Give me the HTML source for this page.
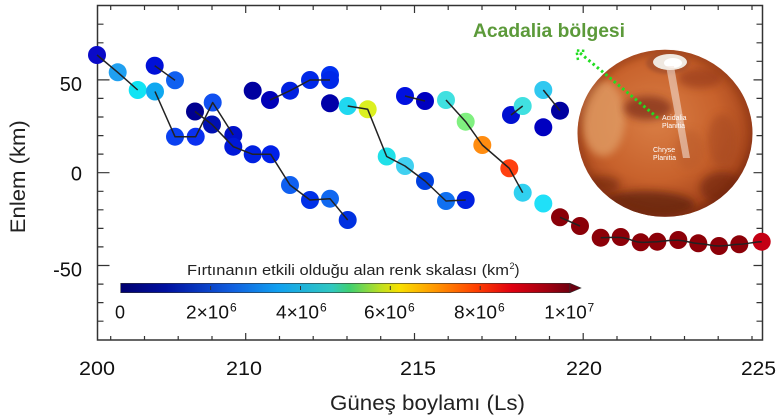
<!DOCTYPE html>
<html><head><meta charset="utf-8"><style>
html,body{margin:0;padding:0;background:#fff;}
svg{display:block;}
text{font-family:"Liberation Sans",sans-serif;}
</style></head><body>
<svg width="777" height="420" viewBox="0 0 777 420" xmlns="http://www.w3.org/2000/svg">
<defs>
<linearGradient id="jet" x1="0" y1="0" x2="1" y2="0">
<stop offset="0" stop-color="#000070"/>
<stop offset="0.1" stop-color="#0010a0"/>
<stop offset="0.25" stop-color="#1060e0"/>
<stop offset="0.35" stop-color="#10a0f0"/>
<stop offset="0.47" stop-color="#30c8c0"/>
<stop offset="0.51" stop-color="#40d070"/>
<stop offset="0.58" stop-color="#c0e020"/>
<stop offset="0.62" stop-color="#f8e000"/>
<stop offset="0.69" stop-color="#ffa000"/>
<stop offset="0.79" stop-color="#ff4000"/>
<stop offset="0.87" stop-color="#e00010"/>
<stop offset="0.95" stop-color="#a00010"/>
<stop offset="1" stop-color="#700010"/>
</linearGradient>
<radialGradient id="mars" cx="0.45" cy="0.42" r="0.6">
<stop offset="0" stop-color="#d97e45"/>
<stop offset="0.6" stop-color="#c8622c"/>
<stop offset="0.9" stop-color="#a9481e"/>
<stop offset="1" stop-color="#8a3414"/>
</radialGradient>
<filter id="bl" x="-50%" y="-50%" width="200%" height="200%"><feGaussianBlur stdDeviation="4"/></filter>
<filter id="bl2" x="-50%" y="-50%" width="200%" height="200%"><feGaussianBlur stdDeviation="1.5"/></filter>
<clipPath id="mc"><ellipse cx="665" cy="133.3" rx="87.5" ry="83.5"/></clipPath>
</defs>

<!-- frame -->
<rect x="97.5" y="5.5" width="665" height="334.5" fill="none" stroke="#333" stroke-width="1.5"/>
<path stroke="#333" stroke-width="1.2" fill="none" d="
M110.7 340V336 M144.5 340V336 M178.2 340V336 M212 340V336 M245.7 340V333 M279.5 340V336 M313.2 340V336 M347 340V336 M380.7 340V336 M414.5 340V333 M448.2 340V336 M482 340V336 M515.7 340V336 M549.5 340V336 M583.2 340V333 M617 340V336 M650.7 340V336 M684.5 340V336 M718.2 340V336 M752 340V336
M110.7 5.5V10 M144.5 5.5V10 M178.2 5.5V10 M212 5.5V10 M245.7 5.5V13 M279.5 5.5V10 M313.2 5.5V10 M347 5.5V10 M380.7 5.5V10 M414.5 5.5V13 M448.2 5.5V10 M482 5.5V10 M515.7 5.5V10 M549.5 5.5V10 M583.2 5.5V13 M617 5.5V10 M650.7 5.5V10 M684.5 5.5V10 M718.2 5.5V10 M752 5.5V10
M97.5 24.2H103.5 M97.5 42.8H103.5 M97.5 61.3H103.5 M97.5 79.9H109.5 M97.5 98.4H103.5 M97.5 117H103.5 M97.5 135.6H103.5 M97.5 154.1H103.5 M97.5 172.7H109.5 M97.5 191.3H103.5 M97.5 209.8H103.5 M97.5 228.4H103.5 M97.5 246.9H103.5 M97.5 265.5H109.5 M97.5 284.1H103.5 M97.5 302.6H103.5 M97.5 321.2H103.5
M762.5 24.2H756.5 M762.5 42.8H756.5 M762.5 61.3H756.5 M762.5 79.9H753.5 M762.5 98.4H756.5 M762.5 117H756.5 M762.5 135.6H756.5 M762.5 154.1H756.5 M762.5 172.7H753.5 M762.5 191.3H756.5 M762.5 209.8H756.5 M762.5 228.4H756.5 M762.5 246.9H756.5 M762.5 265.5H753.5 M762.5 284.1H756.5 M762.5 302.6H756.5 M762.5 321.2H756.5"/>

<!-- y labels -->
<g font-size="20" fill="#111" text-anchor="end">
<text x="82" y="91">50</text>
<text x="82" y="180.7">0</text>
<text x="82" y="276.7">-50</text>
</g>
<text transform="translate(25,176.7) rotate(-90)" font-size="21" fill="#222" text-anchor="middle" textLength="113" lengthAdjust="spacingAndGlyphs">Enlem (km)</text>

<!-- x labels -->
<g font-size="19" fill="#111">
<text x="79" y="375" textLength="36" lengthAdjust="spacingAndGlyphs">200</text>
<text x="226" y="375" textLength="36" lengthAdjust="spacingAndGlyphs">210</text>
<text x="400" y="375" textLength="36" lengthAdjust="spacingAndGlyphs">215</text>
<text x="566" y="375" textLength="36" lengthAdjust="spacingAndGlyphs">220</text>
<text x="741" y="375" textLength="35" lengthAdjust="spacingAndGlyphs">225</text>
</g>
<text x="330" y="410" font-size="21" fill="#222" textLength="195" lengthAdjust="spacingAndGlyphs">Güneş boylamı (Ls)</text>

<!-- Mars -->
<g>
<ellipse cx="665" cy="133.3" rx="87.5" ry="83.5" fill="url(#mars)"/>
<g clip-path="url(#mc)">
<ellipse cx="603" cy="118" rx="22" ry="38" fill="#e2a36c" opacity="0.7" filter="url(#bl)"/>
<ellipse cx="648" cy="108" rx="24" ry="12" fill="#86351a" opacity="0.8" filter="url(#bl)"/>
<ellipse cx="700" cy="78" rx="22" ry="10" fill="#9a3e1c" opacity="0.7" filter="url(#bl)"/>
<ellipse cx="722" cy="140" rx="14" ry="26" fill="#a64822" opacity="0.6" filter="url(#bl)"/>
<ellipse cx="645" cy="205" rx="50" ry="14" fill="#5e200c" opacity="0.75" filter="url(#bl)"/>
<ellipse cx="602" cy="185" rx="18" ry="9" fill="#6e2810" opacity="0.6" filter="url(#bl)"/>
<ellipse cx="722" cy="188" rx="22" ry="16" fill="#6a2410" opacity="0.6" filter="url(#bl)"/>
<ellipse cx="690" cy="150" rx="14" ry="20" fill="#b85a2c" opacity="0.5" filter="url(#bl)"/>
<ellipse cx="665" cy="133.3" rx="87.5" ry="83.5" fill="none" stroke="#7a2c10" stroke-width="8" opacity="0.45" filter="url(#bl)"/>
</g>
<ellipse cx="668" cy="63" rx="22" ry="11" fill="#9a4a2a" opacity="0.6" filter="url(#bl2)"/>
<ellipse cx="670" cy="62" rx="17" ry="8" fill="#efe8e0"/>
<ellipse cx="673" cy="63" rx="9" ry="5" fill="#ffffff"/>
<polygon points="666,66 674,66 690,158 683,158" fill="#f4e6dc" opacity="0.55"/>
<g fill="#fff" font-size="7">
<text x="662" y="120">Acidalia</text>
<text x="662" y="128">Planitia</text>
<text x="653" y="152">Chryse</text>
<text x="653" y="160">Planitia</text>
</g>
</g>

<!-- Acadalia label and arrow -->
<text x="473" y="37" font-size="19" font-weight="bold" fill="#5c9a3a" textLength="152" lengthAdjust="spacingAndGlyphs">Acadalia bölgesi</text>
<line x1="658" y1="118" x2="580" y2="53" stroke="#22dd22" stroke-width="3" stroke-dasharray="2.5,3"/>
<polyline points="578,60 576.5,50.5 586,51" fill="none" stroke="#22dd22" stroke-width="2.5" stroke-dasharray="2.5,2.5"/>

<!-- points -->
<g>
<circle cx="97" cy="55" r="9" fill="#0a0ac8"/>
<circle cx="117.7" cy="72.3" r="9" fill="#20a0f0"/>
<circle cx="137.7" cy="90" r="9" fill="#10e4f4"/>
<circle cx="154.7" cy="65.7" r="9" fill="#0010d8"/>
<circle cx="175" cy="80.3" r="9" fill="#1060f0"/>
<circle cx="155" cy="91.5" r="9" fill="#10a8f0"/>
<circle cx="175" cy="136.7" r="9" fill="#0a40f0"/>
<circle cx="195.7" cy="136.7" r="9" fill="#0a30f0"/>
<circle cx="212.7" cy="102.5" r="9" fill="#1050f0"/>
<circle cx="195" cy="111.5" r="9" fill="#000090"/>
<circle cx="212" cy="124.5" r="9" fill="#0010b0"/>
<circle cx="233.3" cy="135" r="9" fill="#0010c8"/>
<circle cx="233.3" cy="146.7" r="9" fill="#0018d8"/>
<circle cx="252.7" cy="154.3" r="9" fill="#0020e0"/>
<circle cx="270.7" cy="154.3" r="9" fill="#0020e8"/>
<circle cx="290" cy="185" r="9" fill="#1060f0"/>
<circle cx="310" cy="200" r="9" fill="#0030e8"/>
<circle cx="330" cy="198.7" r="9" fill="#1068f0"/>
<circle cx="347.7" cy="220" r="9" fill="#0030e0"/>
<circle cx="252.7" cy="90.7" r="9" fill="#0000a0"/>
<circle cx="270" cy="100" r="9" fill="#0000b8"/>
<circle cx="290" cy="90.7" r="9" fill="#0020e0"/>
<circle cx="310" cy="80" r="9" fill="#0028e8"/>
<circle cx="330" cy="75" r="9" fill="#0030f0"/>
<circle cx="330" cy="80" r="9" fill="#0028e8"/>
<circle cx="330" cy="103.3" r="9" fill="#0000a8"/>
<circle cx="347.7" cy="106" r="9" fill="#20d8f0"/>
<circle cx="367.7" cy="109.3" r="9" fill="#dcf020"/>
<circle cx="386.7" cy="156.5" r="9" fill="#20e0e8"/>
<circle cx="405" cy="96" r="9" fill="#0010e0"/>
<circle cx="425" cy="101" r="9" fill="#0000c0"/>
<circle cx="446" cy="100" r="9" fill="#40e0e0"/>
<circle cx="465.7" cy="121.7" r="9" fill="#80f080"/>
<circle cx="482.3" cy="145" r="9" fill="#ff8c10"/>
<circle cx="509.3" cy="168.3" r="9" fill="#ff4010"/>
<circle cx="522.7" cy="192.7" r="9" fill="#30d0f0"/>
<circle cx="511" cy="115" r="9" fill="#0010d0"/>
<circle cx="522.7" cy="106" r="9" fill="#40e0e0"/>
<circle cx="543.3" cy="90" r="9" fill="#30c8f0"/>
<circle cx="560" cy="110.7" r="9" fill="#0000a0"/>
<circle cx="543.3" cy="127.3" r="9" fill="#0000c0"/>
<circle cx="543.3" cy="203.5" r="9" fill="#20e0f8"/>
<circle cx="405" cy="166" r="9" fill="#40d0f0"/>
<circle cx="425" cy="181" r="9" fill="#0040e0"/>
<circle cx="446" cy="201" r="9" fill="#1070f0"/>
<circle cx="465.7" cy="200" r="9" fill="#0020e0"/>
<circle cx="560" cy="217.3" r="9" fill="#8a0008"/>
<circle cx="580" cy="226" r="9" fill="#8a0008"/>
<circle cx="600.7" cy="237.7" r="9" fill="#8c0008"/>
<circle cx="620.7" cy="237" r="9" fill="#8c0008"/>
<circle cx="640.7" cy="242.3" r="9" fill="#8c0008"/>
<circle cx="657.3" cy="241.7" r="9" fill="#8c0008"/>
<circle cx="678.3" cy="240" r="9" fill="#8c0008"/>
<circle cx="698.3" cy="243.3" r="9" fill="#8c0008"/>
<circle cx="719" cy="246" r="9" fill="#8c0008"/>
<circle cx="739.3" cy="244.3" r="9" fill="#8c0008"/>
<circle cx="761.7" cy="241.7" r="9" fill="#c40014"/>
</g>

<!-- connecting lines -->
<g fill="none" stroke="#222" stroke-width="1.5" stroke-linejoin="round">
<polyline points="97,55 117.7,72.3 137.7,90"/>
<polyline points="154.7,65.7 175,80.3"/>
<polyline points="155,91.5 175,136.7 195.7,136.7 212.7,102.5 233.3,135"/>
<polyline points="195,111.5 212,124.5 233.3,146.7 252.7,154.3 270.7,154.3 290,185 310,200 330,198.7 347.7,220"/>
<polyline points="270,100 290,90.7 310,80 330,80"/>
<polyline points="347.7,106 367.7,109.3 386.7,156.5 405,166 425,181 446,201 465.7,200"/>
<polyline points="405,96 425,101"/>
<polyline points="446,100 465.7,121.7 482.3,145 509.3,168.3 522.7,192.7"/>
<polyline points="511,115 522.7,106"/>
<polyline points="543.3,90 560,110.7"/>
<polyline points="560,217.3 580,226"/>
<path d="M600.7 237.7 C610 237.5 612 237 620.7 237.5 C630 238 632 242 640.7 242.3 C648 242.5 650 242 657.3 241.7 C666 241 670 240 678.3 240.3 C688 241 690 243 698.3 243.5 C708 244 711 246 719 246 C728 246 731 244.5 739.3 244.3 C748 244 752 242 761.7 241.7"/>
</g>

<!-- colorbar -->
<text x="187" y="275" font-size="15" fill="#222" textLength="322" lengthAdjust="spacingAndGlyphs">Fırtınanın etkili olduğu alan renk skalası (km</text>
<text x="509.5" y="269" font-size="9" fill="#222">2</text>
<text x="514.5" y="275" font-size="15" fill="#222">)</text>
<rect x="120.7" y="283.3" width="449.3" height="9.4" fill="url(#jet)" stroke="#333" stroke-width="0.6"/>
<polygon points="570,283.3 581,288 570,292.7" fill="#6a0010" stroke="#333" stroke-width="0.6"/>
<path stroke="#333" stroke-width="1" d="M210.6 286V290 M300.5 286V290 M390.3 286V290 M480.2 286V290"/>
<g font-size="18" fill="#111">
<text x="115" y="318.3">0</text>
<text x="186" y="318.3" textLength="43" lengthAdjust="spacingAndGlyphs">2×10</text>
<text x="230" y="311.7" font-size="12">6</text>
<text x="276" y="318.3" textLength="43" lengthAdjust="spacingAndGlyphs">4×10</text>
<text x="320" y="311.7" font-size="12">6</text>
<text x="364" y="318.3" textLength="43" lengthAdjust="spacingAndGlyphs">6×10</text>
<text x="408" y="311.7" font-size="12">6</text>
<text x="454" y="318.3" textLength="43" lengthAdjust="spacingAndGlyphs">8×10</text>
<text x="498" y="311.7" font-size="12">6</text>
<text x="544.3" y="318.3" textLength="42.5" lengthAdjust="spacingAndGlyphs">1×10</text>
<text x="587.5" y="311.7" font-size="12">7</text>
</g>
</svg>
</body></html>
